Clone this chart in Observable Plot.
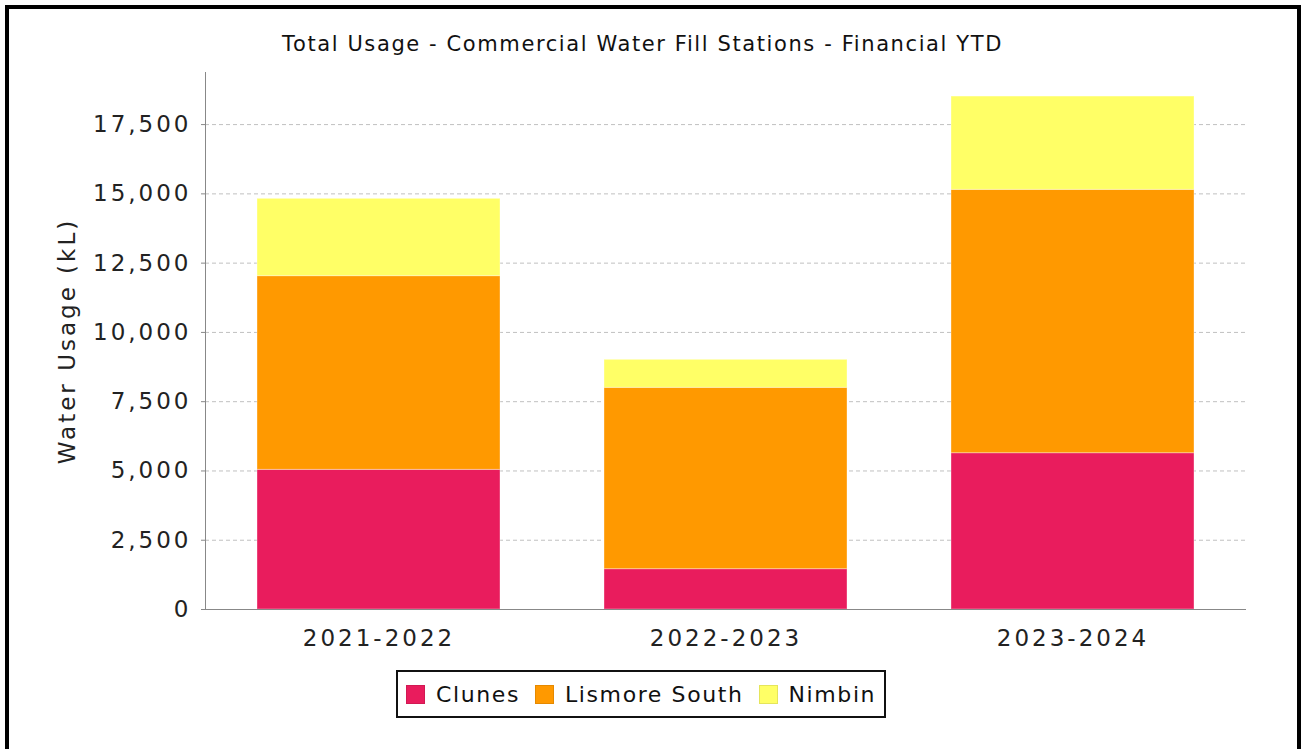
<!DOCTYPE html>
<html>
<head>
<meta charset="utf-8">
<script src="https://cdn.jsdelivr.net/npm/d3@7"></script>
<script src="https://cdn.jsdelivr.net/npm/@observablehq/plot@0.6"></script>
<style>
  html, body { margin: 0; padding: 0; background: #fff; }
  #page { position: relative; width: 1301px; height: 749px; overflow: hidden; font-family: "DejaVu Sans", sans-serif; }
  #border { position: absolute; left: 5px; top: 5px; width: 1288px; height: 800px; border: 4px solid #000; border-bottom: none; }
  #title { position: absolute; left: -8px; width: 1301px; top: 32px; text-align: center; font-size: 21px; letter-spacing: 1.6px; color: #111; }
  #chart { position: absolute; left: 0; top: 60px; }
  #legend { position: absolute; left: 396px; top: 670px; height: 44px; border: 2px solid #111; display: flex; align-items: center; padding: 0 8px; font-size: 22px; letter-spacing: 1.6px; color: #111; }
  .item { display: flex; align-items: center; margin-right: 15px; }
  .item:last-child { margin-right: 0; }
  .sw { width: 19px; height: 19px; margin-right: 11px; box-sizing: border-box; border: 1px solid rgba(0,0,0,0.1); }
</style>
</head>
<body>
<div id="page">
  <div id="border"></div>
  <div id="title"></div>
  <div id="chart"></div>
  <div id="legend"></div>
</div>
<script>
const titleText = "Total Usage - Commercial Water Fill Stations - Financial YTD";
const yLabel = "Water Usage (kL)";
const years = ["2021-2022", "2022-2023", "2023-2024"];
const stations = ["Clunes", "Lismore South", "Nimbin"];
const colors = ["#E91C5D", "#FF9900", "#FFFF66"];
const clunes = [5040, 1455, 5640];
const lismoreSouth = [6990, 6545, 9505];
const nimbin = [2790, 1010, 3367];
const yTicks = [0, 2500, 5000, 7500, 10000, 12500, 15000, 17500];

const series = [clunes, lismoreSouth, nimbin];
const data = [];
stations.forEach((s, i) => years.forEach((y, j) => data.push({year: y, station: s, value: series[i][j]})));

document.getElementById("title").textContent = titleText;

const chart = Plot.plot({
  width: 1301,
  height: 620,
  marginTop: 12,
  marginBottom: 71,
  marginLeft: 205,
  marginRight: 55,
  style: {fontFamily: "DejaVu Sans, sans-serif", fontSize: "23px", color: "#222", letterSpacing: "3px", background: "transparent"},
  x: {domain: years, paddingInner: 0.3, paddingOuter: 0.15},
  y: {domain: [0, 19380]},
  color: {domain: stations, range: colors},
  marks: [
    Plot.gridY(yTicks.filter(d => d > 0), {stroke: "#c0c0c0", strokeOpacity: 1, strokeDasharray: "4,3"}),
    Plot.barY(data, {x: "year", y: "value", fill: "station", order: stations, stroke: "#ffffff", strokeOpacity: 0.35, strokeWidth: 1}),
    Plot.axisY({ticks: yTicks, tickFormat: d3.format(","), tickSize: 4, tickPadding: 10, stroke: "#888", fontSize: 23, label: yLabel, labelAnchor: "center", labelArrow: "none", labelOffset: 147}),
    Plot.axisX({tickSize: 0, tickPadding: 20, fontSize: 23, label: null}),
    Plot.frame({anchor: "left", stroke: "#888"}),
    Plot.ruleY([0], {stroke: "#888"})
  ]
});
document.getElementById("chart").appendChild(chart);

const legend = document.getElementById("legend");
stations.forEach((s, i) => {
  const it = document.createElement("div");
  it.className = "item";
  const sw = document.createElement("div");
  sw.className = "sw";
  sw.style.background = colors[i];
  const t = document.createElement("span");
  t.textContent = s;
  it.appendChild(sw);
  it.appendChild(t);
  legend.appendChild(it);
});
</script>
</body>
</html>
